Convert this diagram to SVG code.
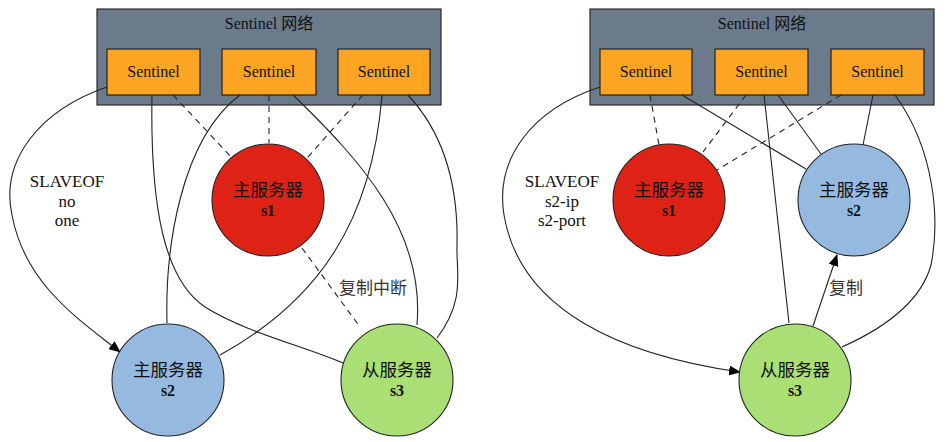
<svg xmlns="http://www.w3.org/2000/svg" width="946" height="442" viewBox="0 0 946 442">
<defs>
<style>
.cl{fill:#6c7b8b;stroke:#2b2b2b;stroke-width:1.2}
.sn{fill:#fea423;stroke:#222;stroke-width:1.2}
.t{font-family:"Liberation Serif","Noto Sans CJK SC",serif;fill:#111;text-anchor:middle}
.st{font-size:16px}
.zh{font-family:"Noto Sans CJK SC","Liberation Sans",sans-serif;font-size:17.5px;fill:#111;text-anchor:middle}
.id{font-family:"Liberation Serif",serif;font-size:16px;font-weight:bold;fill:#111;text-anchor:middle}
.c{stroke:#222;stroke-width:1.1}
.e{fill:none;stroke:#222;stroke-width:1.1}
.d{fill:none;stroke:#222;stroke-width:1.1;stroke-dasharray:6,5}
.lb{font-family:"Liberation Serif",serif;font-size:17px;fill:#111;text-anchor:middle}
.lz{font-family:"Noto Sans CJK SC",sans-serif;font-size:17px;fill:#333;text-anchor:middle}
</style>
<marker id="ar" markerWidth="12" markerHeight="10" refX="11" refY="5" orient="auto" markerUnits="userSpaceOnUse">
<path d="M0,0 L12,5 L0,10 z" fill="#000"/>
</marker>
</defs>
<rect width="946" height="442" fill="#fff"/>

<!-- LEFT PANEL -->
<g id="L-cluster">
<rect class="cl" x="97" y="9" width="344" height="96"/>
<text class="t st" x="269" y="29">Sentinel 网络</text>
</g>
<g id="L-sentinel1"><rect class="sn" x="107" y="49" width="93" height="46"/><text class="t st" x="153.5" y="77">Sentinel</text></g>
<g id="L-sentinel2"><rect class="sn" x="222" y="49" width="94" height="46"/><text class="t st" x="269" y="77">Sentinel</text></g>
<g id="L-sentinel3"><rect class="sn" x="338" y="49" width="92" height="46"/><text class="t st" x="384" y="77">Sentinel</text></g>

<g id="L-connectors">
<path class="e" d="M107,87 C40,110 0,160 12,215 C25,285 80,320 120,352" marker-end="url(#ar)"/>
<path class="e" d="M152,95 C150,210 165,280 205,307 C245,332 300,345 343,363"/>
<path class="d" d="M173,95 L232,158"/>
<path class="e" d="M240,95 C180,140 165,250 167,323"/>
<path class="d" d="M269,95 L269,143"/>
<path class="e" d="M293,95 C360,160 425,230 417,325"/>
<path class="d" d="M363,95 L307,158"/>
<path class="e" d="M382,95 C372,220 320,300 220,355"/>
<path class="e" d="M408,95 C450,140 458,200 457,245 C456,272 466,300 437,338"/>
<path class="d" d="M302,248 L360,327"/>
<text class="lb" x="67" y="187">SLAVEOF</text>
<text class="lb" x="67" y="207">no</text>
<text class="lb" x="67" y="226">one</text>
<text class="lz" x="373" y="294">复制中断</text>
</g>

<g id="L-s1"><circle class="c" cx="268" cy="200" r="56" fill="#de2316"/><text class="zh" x="268" y="196">主服务器</text><text class="id" x="268" y="216">s1</text></g>
<g id="L-s2"><circle class="c" cx="168" cy="380" r="56" fill="#96badf"/><text class="zh" x="168" y="376">主服务器</text><text class="id" x="168" y="396">s2</text></g>
<g id="L-s3"><circle class="c" cx="397" cy="380" r="56" fill="#a9df74"/><text class="zh" x="397" y="376">从服务器</text><text class="id" x="397" y="396">s3</text></g>

<!-- RIGHT PANEL -->
<g id="R-cluster">
<rect class="cl" x="590" y="9" width="344" height="96"/>
<text class="t st" x="762" y="29">Sentinel 网络</text>
</g>
<g id="R-sentinel1"><rect class="sn" x="600" y="49" width="92" height="46"/><text class="t st" x="646" y="77">Sentinel</text></g>
<g id="R-sentinel2"><rect class="sn" x="715" y="49" width="93" height="46"/><text class="t st" x="761.5" y="77">Sentinel</text></g>
<g id="R-sentinel3"><rect class="sn" x="831" y="49" width="93" height="46"/><text class="t st" x="877.5" y="77">Sentinel</text></g>

<g id="R-connectors">
<path class="e" d="M600,87 C530,110 495,160 504,215 C520,310 620,355 740,372" marker-end="url(#ar)"/>
<path class="d" d="M650,95 L659,145"/>
<path class="e" d="M682,95 L806,169"/>
<path class="d" d="M746,95 L703,152"/>
<path class="e" d="M764,95 L789,323"/>
<path class="e" d="M778,95 L821,154"/>
<path class="d" d="M841,95 L717,170"/>
<path class="e" d="M873,95 L863,145"/>
<path class="e" d="M895,95 C935,150 940,220 931,265 C920,305 880,330 842,347"/>
<path class="e" d="M813,326 L837,255" marker-end="url(#ar)"/>
<text class="lb" x="562" y="187">SLAVEOF</text>
<text class="lb" x="562" y="207">s2-ip</text>
<text class="lb" x="562" y="226">s2-port</text>
<text class="lz" x="846" y="294">复制</text>
</g>

<g id="R-s1"><circle class="c" cx="669" cy="200" r="56" fill="#de2316"/><text class="zh" x="669" y="196">主服务器</text><text class="id" x="669" y="216">s1</text></g>
<g id="R-s2"><circle class="c" cx="854" cy="200" r="56" fill="#96badf"/><text class="zh" x="854" y="196">主服务器</text><text class="id" x="854" y="216">s2</text></g>
<g id="R-s3"><circle class="c" cx="795" cy="380" r="56" fill="#a9df74"/><text class="zh" x="795" y="376">从服务器</text><text class="id" x="795" y="396">s3</text></g>
</svg>
